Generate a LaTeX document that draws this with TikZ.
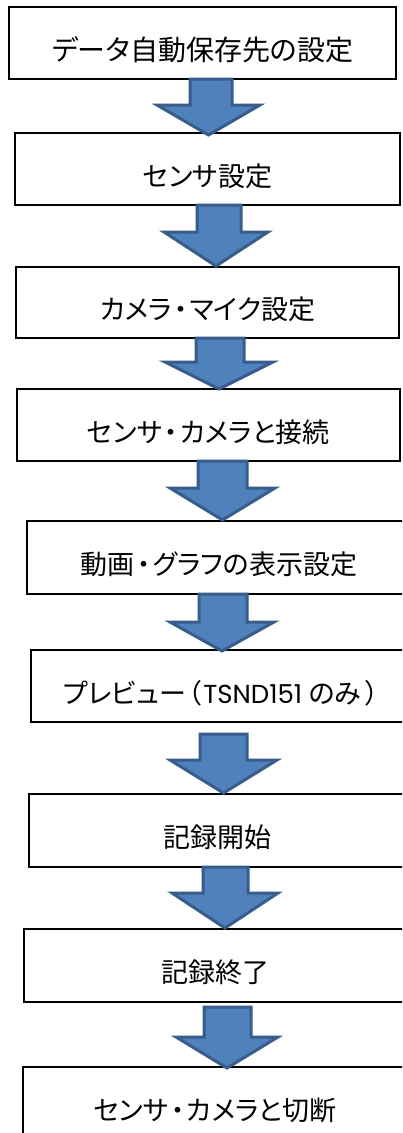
\documentclass[tikz,border=0pt]{standalone}
\usepackage{fontspec}
\setmainfont[RawFeature=+palt]{Noto Sans CJK JP}
\newfontfamily\latinfont{Poppins}
\definecolor{arrowfill}{HTML}{4F81BD}
\definecolor{arrowline}{HTML}{385D8A}
\tikzset{
  stepbox/.style={draw=black, line width=2.5pt, fill=white, inner sep=0pt},
  steplabel/.style={font=\fontsize{27}{31}\selectfont, inner sep=0pt, text=black},
  blockarrow/.style={fill=arrowfill, draw=arrowline, line width=3pt, line join=miter}
}
\newcommand{\mkbox}[6]{% name, cx, cy, w, h, text
  \node[stepbox, minimum width=#4pt, minimum height=#5pt] (#1) at (#2,#3) {};
  \node[steplabel] (#1t) at ([yshift=-7pt]#1.center) {#6};
}
\newcommand{\mkarrow}[8]{% name, ytop, yhead, ytip, sx1, sx2, hx1, hx2
  \coordinate (#1s) at ({(#7+#8)/2},#4);
  \draw[blockarrow] (#5,#2) -- (#6,#2) -- (#6,#3) -- (#8,#3) -- (#1s) -- (#7,#3) -- (#5,#3) -- cycle;
}
\newcommand{\dt}{\kern0.08em・\kern0.08em}
\begin{document}
\begin{tikzpicture}[x=1pt,y=-1pt]
\useasboundingbox (0,0) rectangle (402,1133);
\clip (0,0) rectangle (402,1133);
\fill[white] (0,0) rectangle (402,1133);
% boxes
\mkbox{b1}{202.5}{43}{387}{72}{\fontsize{28}{32}\selectfont データ自動保存先の設定}
\mkbox{b2}{207.5}{169}{385}{72}{センサ設定}
\mkbox{b3}{207.5}{302.5}{383}{71}{カメラ\dt マイク設定}
\mkbox{b4}{208.5}{425}{383}{72}{センサ\dt カメラと接続}
\mkbox{b5}{219}{557.5}{384}{73}{動画\dt グラフの表示設定}
\mkbox{b6}{221}{686}{380}{72}{プレビュー\kern0.1em（\kern0.05em{\latinfont\fontsize{26}{30}\selectfont TSND151}\kern0.25em のみ\kern0.15em）}
\mkbox{b7}{217}{830.5}{376}{73}{記録開始}
\mkbox{b8}{215}{965.5}{382}{73}{記録終了}
\mkbox{b9}{215}{1103.5}{384}{73}{センサ\dt カメラと切断}
% arrows (drawn after boxes so the tip overlaps the next box's top line)
\mkarrow{a1}{79}{105}{135}{190}{232}{157}{260}
\mkarrow{a2}{205}{232}{266}{197}{241}{164}{268}
\mkarrow{a3}{338}{362}{389}{196}{244}{165}{273}
\mkarrow{a4}{461}{488}{520}{198}{247}{170}{275}
\mkarrow{a5}{594}{622}{651}{199}{247}{170}{274}
\mkarrow{a6}{734}{760}{793}{200}{247}{170}{277}
\mkarrow{a7}{867}{893}{928}{203}{248}{172}{278}
\mkarrow{a8}{1007}{1037}{1068}{204}{251}{176}{278}
\end{tikzpicture}
\end{document}
